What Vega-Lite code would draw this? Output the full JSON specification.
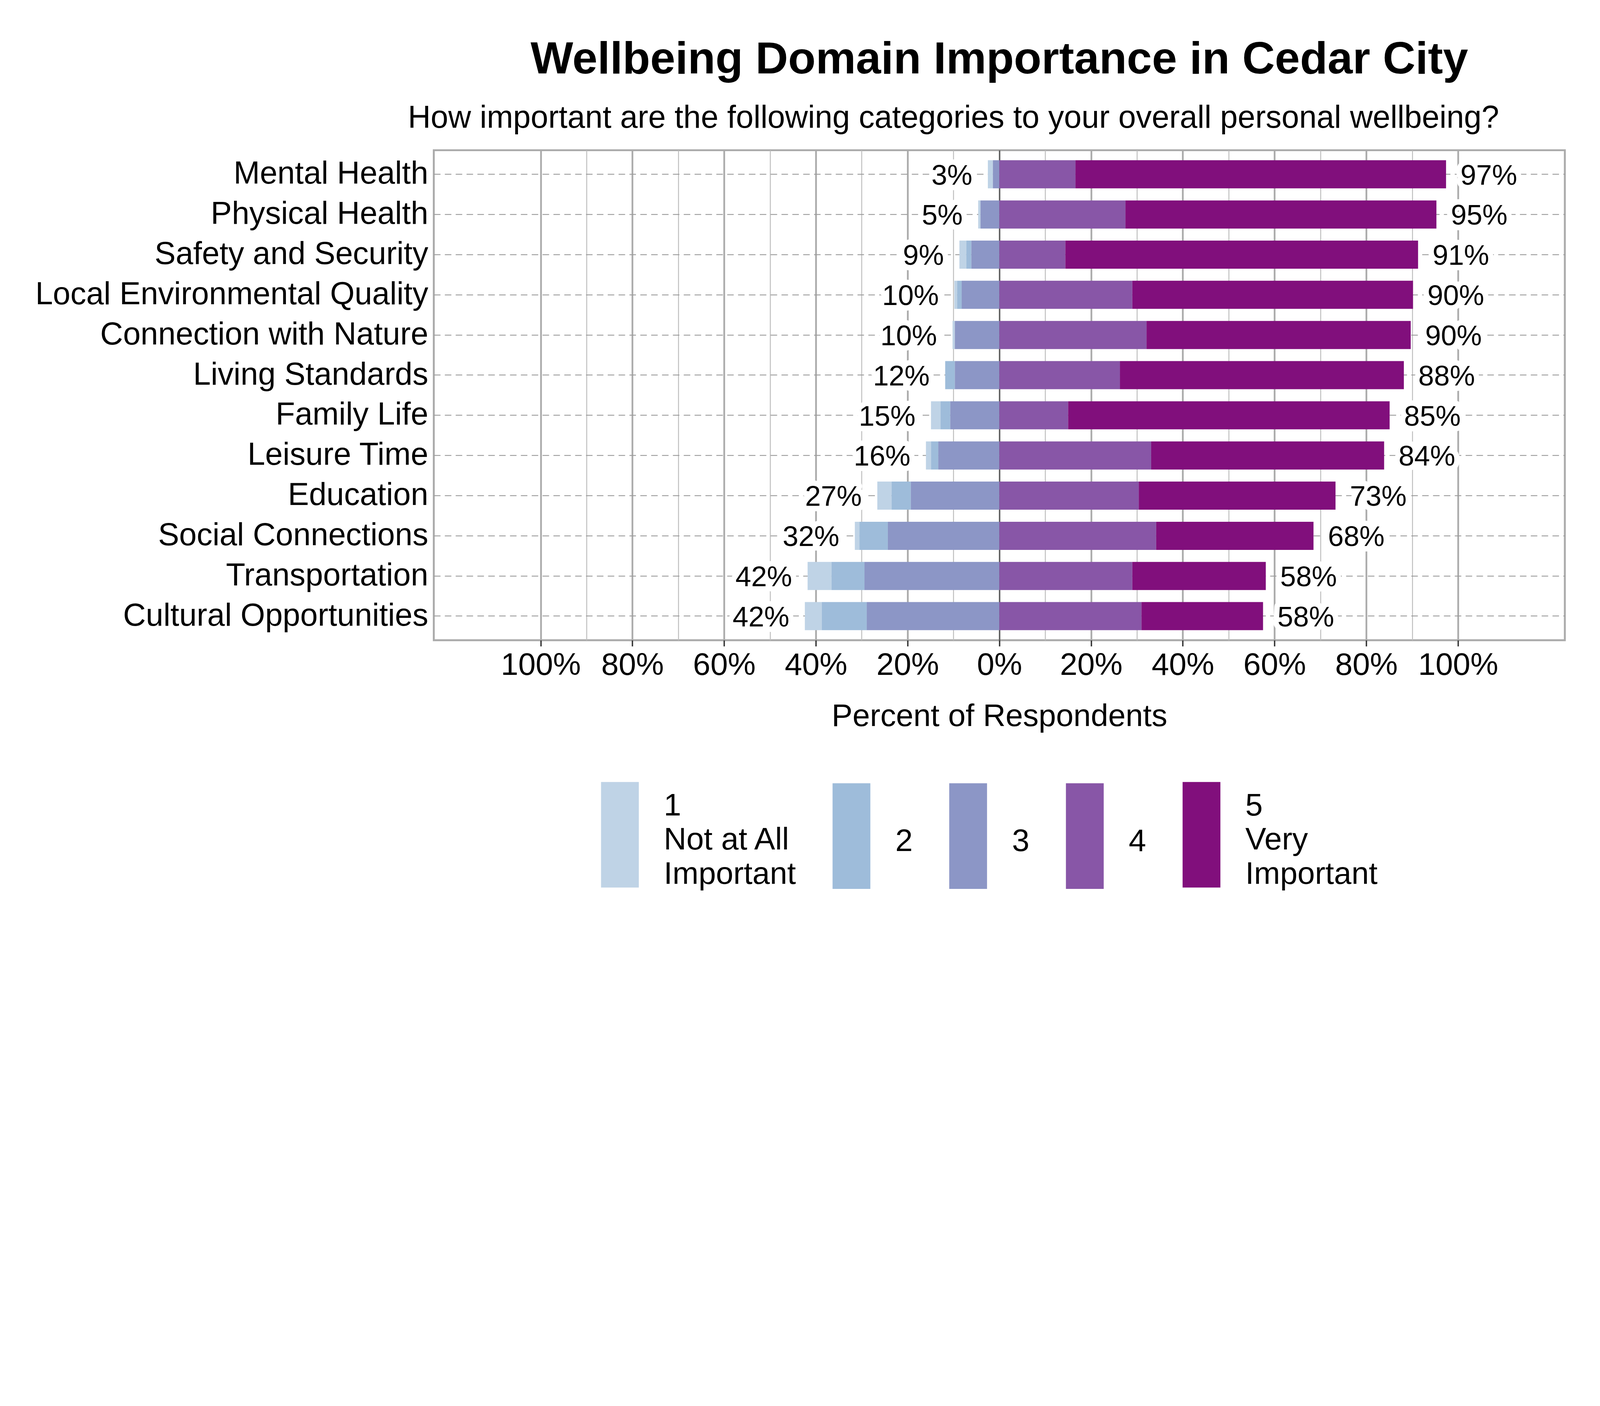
{
  "$schema": "https://vega.github.io/schema/vega-lite/v6.json",
  "autosize": {"type": "none"},
  "width": 2895.5,
  "height": 1254.7,
  "padding": {"left": 1110.5, "top": 384.6, "right": 174, "bottom": 868.7},
  "background": "white",
  "title": {
    "text": "Wellbeing Domain Importance in Cedar City",
    "font": "Liberation Sans",
    "fontSize": 115.6,
    "fontWeight": "bold",
    "color": "#000000",
    "anchor": "middle",
    "frame": "group",
    "baseline": "alphabetic",
    "offset": -41.8
  },
  "datasets": {
    "resp": [
      {"domain": "Mental Health", "level": 1, "pct": -1.1},
      {"domain": "Mental Health", "level": 3, "pct": -1.4},
      {"domain": "Mental Health", "level": 4, "pct": 16.6},
      {"domain": "Mental Health", "level": 5, "pct": 80.8},
      {"domain": "Physical Health", "level": 1, "pct": -0.5},
      {"domain": "Physical Health", "level": 3, "pct": -4.1},
      {"domain": "Physical Health", "level": 4, "pct": 27.5},
      {"domain": "Physical Health", "level": 5, "pct": 67.8},
      {"domain": "Safety and Security", "level": 1, "pct": -1.5},
      {"domain": "Safety and Security", "level": 2, "pct": -1.1},
      {"domain": "Safety and Security", "level": 3, "pct": -6.1},
      {"domain": "Safety and Security", "level": 4, "pct": 14.4},
      {"domain": "Safety and Security", "level": 5, "pct": 76.9},
      {"domain": "Local Environmental Quality", "level": 1, "pct": -0.6},
      {"domain": "Local Environmental Quality", "level": 2, "pct": -1.0},
      {"domain": "Local Environmental Quality", "level": 3, "pct": -8.2},
      {"domain": "Local Environmental Quality", "level": 4, "pct": 29.0},
      {"domain": "Local Environmental Quality", "level": 5, "pct": 61.2},
      {"domain": "Connection with Nature", "level": 1, "pct": -0.5},
      {"domain": "Connection with Nature", "level": 3, "pct": -9.7},
      {"domain": "Connection with Nature", "level": 4, "pct": 32.1},
      {"domain": "Connection with Nature", "level": 5, "pct": 57.6},
      {"domain": "Living Standards", "level": 2, "pct": -2.1},
      {"domain": "Living Standards", "level": 3, "pct": -9.7},
      {"domain": "Living Standards", "level": 4, "pct": 26.3},
      {"domain": "Living Standards", "level": 5, "pct": 61.9},
      {"domain": "Family Life", "level": 1, "pct": -2.1},
      {"domain": "Family Life", "level": 2, "pct": -2.1},
      {"domain": "Family Life", "level": 3, "pct": -10.7},
      {"domain": "Family Life", "level": 4, "pct": 15.0},
      {"domain": "Family Life", "level": 5, "pct": 70.1},
      {"domain": "Leisure Time", "level": 1, "pct": -1.1},
      {"domain": "Leisure Time", "level": 2, "pct": -1.6},
      {"domain": "Leisure Time", "level": 3, "pct": -13.3},
      {"domain": "Leisure Time", "level": 4, "pct": 33.1},
      {"domain": "Leisure Time", "level": 5, "pct": 50.8},
      {"domain": "Education", "level": 1, "pct": -3.1},
      {"domain": "Education", "level": 2, "pct": -4.2},
      {"domain": "Education", "level": 3, "pct": -19.3},
      {"domain": "Education", "level": 4, "pct": 30.4},
      {"domain": "Education", "level": 5, "pct": 42.9},
      {"domain": "Social Connections", "level": 1, "pct": -1.0},
      {"domain": "Social Connections", "level": 2, "pct": -6.2},
      {"domain": "Social Connections", "level": 3, "pct": -24.3},
      {"domain": "Social Connections", "level": 4, "pct": 34.2},
      {"domain": "Social Connections", "level": 5, "pct": 34.3},
      {"domain": "Transportation", "level": 1, "pct": -5.2},
      {"domain": "Transportation", "level": 2, "pct": -7.2},
      {"domain": "Transportation", "level": 3, "pct": -29.4},
      {"domain": "Transportation", "level": 4, "pct": 29.0},
      {"domain": "Transportation", "level": 5, "pct": 29.1},
      {"domain": "Cultural Opportunities", "level": 1, "pct": -3.7},
      {"domain": "Cultural Opportunities", "level": 2, "pct": -9.8},
      {"domain": "Cultural Opportunities", "level": 3, "pct": -28.9},
      {"domain": "Cultural Opportunities", "level": 4, "pct": 31.0},
      {"domain": "Cultural Opportunities", "level": 5, "pct": 26.5}
    ],
    "totals": [
      {"domain": "Mental Health", "neg": -2.5, "negLabel": "3%", "pos": 97.4, "posLabel": "97%"},
      {"domain": "Physical Health", "neg": -4.6, "negLabel": "5%", "pos": 95.3, "posLabel": "95%"},
      {"domain": "Safety and Security", "neg": -8.7, "negLabel": "9%", "pos": 91.3, "posLabel": "91%"},
      {"domain": "Local Environmental Quality", "neg": -9.8, "negLabel": "10%", "pos": 90.2, "posLabel": "90%"},
      {"domain": "Connection with Nature", "neg": -10.2, "negLabel": "10%", "pos": 89.7, "posLabel": "90%"},
      {"domain": "Living Standards", "neg": -11.8, "negLabel": "12%", "pos": 88.2, "posLabel": "88%"},
      {"domain": "Family Life", "neg": -14.9, "negLabel": "15%", "pos": 85.1, "posLabel": "85%"},
      {"domain": "Leisure Time", "neg": -16.0, "negLabel": "16%", "pos": 83.9, "posLabel": "84%"},
      {"domain": "Education", "neg": -26.6, "negLabel": "27%", "pos": 73.3, "posLabel": "73%"},
      {"domain": "Social Connections", "neg": -31.5, "negLabel": "32%", "pos": 68.5, "posLabel": "68%"},
      {"domain": "Transportation", "neg": -41.8, "negLabel": "42%", "pos": 58.1, "posLabel": "58%"},
      {"domain": "Cultural Opportunities", "neg": -42.4, "negLabel": "42%", "pos": 57.5, "posLabel": "58%"}
    ]
  },
  "resolve": {"axis": {"x": "independent"}},
  "encoding": {
    "y": {
      "field": "domain", "type": "nominal",
      "sort": ["Mental Health", "Physical Health", "Safety and Security", "Local Environmental Quality", "Connection with Nature", "Living Standards", "Family Life", "Leisure Time", "Education", "Social Connections", "Transportation", "Cultural Opportunities"],
      "scale": {"paddingInner": 0.3, "paddingOuter": 0.25},
      "axis": {
        "title": null, "ticks": false, "domain": false,
        "labelFont": "Liberation Sans", "labelFontSize": 80.8, "labelColor": "#000000",
        "labelPadding": 14.6, "labelBaseline": "middle", "labelLimit": 3000,
        "grid": true, "gridColor": "#9c9c9c", "gridWidth": 2.1, "gridDash": [16.7, 11.1]
      }
    }
  },
  "layer": [
    {
      "data": {"name": "resp"},
      "transform": [{"filter": "datum.level <= 3"}],
      "mark": {"type": "bar", "strokeWidth": 0},
      "encoding": {
        "x": {
          "field": "pct", "type": "quantitative", "stack": "zero",
          "scale": {"domain": [-123.3, 123.3], "nice": false},
          "axis": {
            "orient": "bottom",
            "values": [-100, -90, -80, -70, -60, -50, -40, -30, -20, -10, 0, 10, 20, 30, 40, 50, 60, 70, 80, 90, 100],
            "labelExpr": "datum.value % 20 == 0 ? abs(datum.value) + '%' : ''",
            "labelFont": "Liberation Sans", "labelFontSize": 80.1, "labelColor": "#000000", "labelLimit": 1000,
            "labelBaseline": "alphabetic", "labelPadding": 72.5, "labelFlush": false, "labelOverlap": false,
            "domain": false,
            "ticks": true, "tickSize": 15.3, "tickWidth": 3.5, "tickColor": "#333333",
            "tickOpacity": {"condition": {"test": "datum.value % 20 == 0", "value": 1}, "value": 0},
            "grid": true,
            "gridColor": {"condition": [{"test": "datum.value == 0", "value": "#616161"}, {"test": "datum.value % 20 == 0", "value": "#ababab"}], "value": "#bdbdbd"},
            "gridWidth": {"condition": [{"test": "datum.value == 0", "value": 3.8}, {"test": "datum.value % 20 == 0", "value": 4.5}], "value": 2.4},
            "title": "Percent of Respondents",
            "titleFont": "Liberation Sans", "titleFontSize": 80.1, "titleFontWeight": "normal", "titleColor": "#000000",
            "titleBaseline": "alphabetic", "titleY": 219.5
          }
        },
        "color": {
          "field": "level", "type": "ordinal",
          "scale": {"domain": [1, 2, 3, 4, 5], "range": ["#bfd3e6", "#9ebcda", "#8c96c6", "#8856a7", "#810f7c"]},
          "legend": {
            "orient": "none", "legendX": 427.8, "legendY": 1617, "direction": "horizontal",
            "title": null, "padding": 0,
            "symbolType": "M-1,-1L-0.284,-1L-0.284,1L-1,1Z", "symbolSize": 73062,
            "symbolStrokeWidth": 0, "symbolOpacity": 1,
            "labelFont": "Liberation Sans", "labelFontSize": 80.1, "labelColor": "#000000",
            "labelOffset": -110, "labelLimit": 3000, "labelBaseline": "middle",
            "columnPadding": 92.7,
            "labelExpr": "datum.value == 1 ? ['1', 'Not at All', 'Important'] : datum.value == 5 ? ['5', 'Very', 'Important'] : datum.label",
            "encode": {"labels": {"update": {"lineHeight": {"value": 87.8}, "dy": {"signal": "datum.value == 1 || datum.value == 5 ? -73.8 : 13.9"}}}}
          }
        },
        "order": {"field": "level", "type": "quantitative", "sort": "descending"}
      }
    },
    {
      "data": {"name": "resp"},
      "transform": [{"filter": "datum.level >= 4"}],
      "mark": {"type": "bar", "strokeWidth": 0},
      "encoding": {
        "x": {"field": "pct", "type": "quantitative", "stack": "zero", "axis": null},
        "color": {"field": "level", "type": "ordinal", "legend": null},
        "order": {"field": "level", "type": "quantitative", "sort": "ascending"}
      }
    },
    {
      "data": {"name": "totals"},
      "mark": {"type": "text", "align": "right", "baseline": "middle", "dx": -39.7, "dy": 4.2, "font": "Liberation Sans", "fontSize": 72.5, "fill": "white", "stroke": "white", "strokeWidth": 27.9, "strokeJoin": "round"},
      "encoding": {
        "x": {"field": "neg", "type": "quantitative", "axis": null},
        "text": {"field": "negLabel"}
      }
    },
    {
      "data": {"name": "totals"},
      "mark": {"type": "text", "align": "left", "baseline": "middle", "dx": 36.9, "dy": 4.2, "font": "Liberation Sans", "fontSize": 72.5, "fill": "white", "stroke": "white", "strokeWidth": 27.9, "strokeJoin": "round"},
      "encoding": {
        "x": {"field": "pos", "type": "quantitative", "axis": null},
        "text": {"field": "posLabel"}
      }
    },
    {
      "data": {"name": "totals"},
      "mark": {"type": "text", "align": "right", "baseline": "middle", "dx": -39.7, "dy": 4.2, "font": "Liberation Sans", "fontSize": 72.5, "fill": "#000000"},
      "encoding": {
        "x": {"field": "neg", "type": "quantitative", "axis": null},
        "text": {"field": "negLabel"}
      }
    },
    {
      "data": {"name": "totals"},
      "mark": {"type": "text", "align": "left", "baseline": "middle", "dx": 36.9, "dy": 4.2, "font": "Liberation Sans", "fontSize": 72.5, "fill": "#000000"},
      "encoding": {
        "x": {
          "field": "pos", "type": "quantitative",
          "axis": {
            "orient": "top", "labels": false, "ticks": false, "domain": false, "grid": false,
            "title": "How important are the following categories to your overall personal wellbeing?",
            "titleFont": "Liberation Sans", "titleFontSize": 80.8, "titleFontWeight": "normal", "titleColor": "#000000",
            "titleBaseline": "alphabetic", "titleAlign": "center", "titleX": 1330, "titleY": -57.8
          }
        },
        "text": {"field": "posLabel"}
      }
    }
  ],
  "config": {
    "view": {"stroke": "#ababab", "strokeWidth": 4.9},
    "font": "Liberation Sans"
  }
}
